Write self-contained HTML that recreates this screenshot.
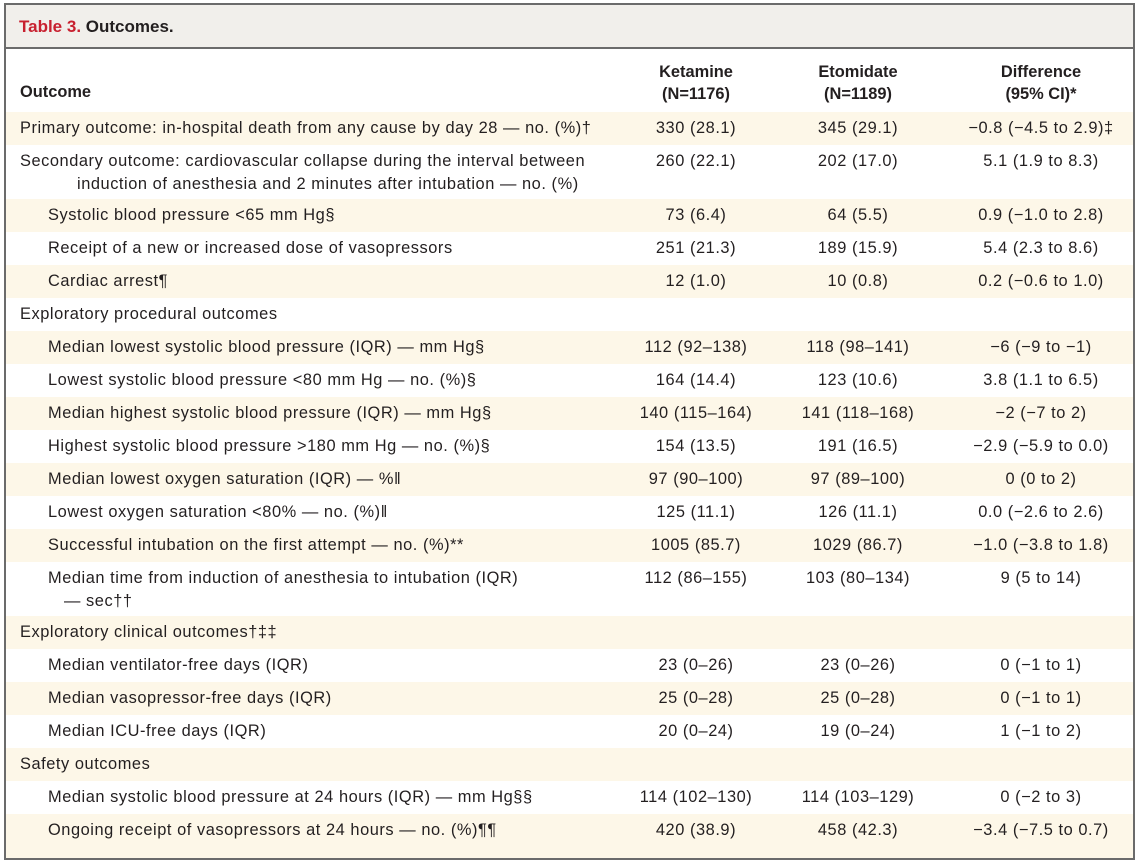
<!DOCTYPE html>
<html><head><meta charset="utf-8"><style>
*{margin:0;padding:0;box-sizing:border-box}
body{width:1140px;height:863px;background:#fff;font-family:"Liberation Sans","DejaVu Sans",sans-serif;color:#231f20;position:relative;overflow:hidden}
.box{position:absolute;left:4px;top:3px;width:1131px;height:857px;border:2px solid #6b6b6b}
.hd{position:absolute;left:0;top:0;right:0;height:44px;background:#f1efeb;border-bottom:2px solid #6b6b6b;font-size:17px;font-weight:bold;padding:12px 0 0 13px}
.hd span{color:#c8202f}
.r{position:absolute;left:0;right:0;font-size:16.4px;letter-spacing:0.55px}
.s{background:#fdf7e8}
.r div{position:absolute;top:0;line-height:33px;white-space:nowrap}
.l{left:14px}
.i{left:42px}
.c1{left:610px;width:160px;text-align:center}
.c2{left:772px;width:160px;text-align:center}
.c3{left:950px;width:170px;text-align:center}
.ch{position:absolute;font-weight:bold;font-size:16.4px;text-align:center;line-height:22px}
</style></head><body>
<div class="box">
<div class="hd"><span>Table 3.</span> Outcomes.</div>
<div class="ch" style="left:14px;top:76px;text-align:left">Outcome</div>
<div class="ch" style="left:610px;width:160px;top:56px">Ketamine<br>(N=1176)</div>
<div class="ch" style="left:772px;width:160px;top:56px">Etomidate<br>(N=1189)</div>
<div class="ch" style="left:950px;width:170px;top:56px">Difference<br>(95% CI)*</div>

<div class="r s" style="top:107px;height:33px"><div class="l">Primary outcome: in-hospital death from any cause by day 28 — no. (%)†</div><div class="c1">330 (28.1)</div><div class="c2">345 (29.1)</div><div class="c3">−0.8 (−4.5 to 2.9)‡</div></div>
<div class="r" style="top:140px;height:54px"><div class="l" style="line-height:23px;top:5px">Secondary outcome: cardiovascular collapse during the interval between<br><span style="padding-left:57px">induction of anesthesia and 2 minutes after intubation — no. (%)</span></div><div class="c1" style="top:0">260 (22.1)</div><div class="c2">202 (17.0)</div><div class="c3">5.1 (1.9 to 8.3)</div></div>
<div class="r s" style="top:194px;height:33px"><div class="i">Systolic blood pressure &lt;65 mm Hg§</div><div class="c1">73 (6.4)</div><div class="c2">64 (5.5)</div><div class="c3">0.9 (−1.0 to 2.8)</div></div>
<div class="r" style="top:227px;height:33px"><div class="i">Receipt of a new or increased dose of vasopressors</div><div class="c1">251 (21.3)</div><div class="c2">189 (15.9)</div><div class="c3">5.4 (2.3 to 8.6)</div></div>
<div class="r s" style="top:260px;height:33px"><div class="i">Cardiac arrest¶</div><div class="c1">12 (1.0)</div><div class="c2">10 (0.8)</div><div class="c3">0.2 (−0.6 to 1.0)</div></div>
<div class="r" style="top:293px;height:33px"><div class="l">Exploratory procedural outcomes</div></div>
<div class="r s" style="top:326px;height:33px"><div class="i">Median lowest systolic blood pressure (IQR) — mm Hg§</div><div class="c1">112 (92–138)</div><div class="c2">118 (98–141)</div><div class="c3">−6 (−9 to −1)</div></div>
<div class="r" style="top:359px;height:33px"><div class="i">Lowest systolic blood pressure &lt;80 mm Hg — no. (%)§</div><div class="c1">164 (14.4)</div><div class="c2">123 (10.6)</div><div class="c3">3.8 (1.1 to 6.5)</div></div>
<div class="r s" style="top:392px;height:33px"><div class="i">Median highest systolic blood pressure (IQR) — mm Hg§</div><div class="c1">140 (115–164)</div><div class="c2">141 (118–168)</div><div class="c3">−2 (−7 to 2)</div></div>
<div class="r" style="top:425px;height:33px"><div class="i">Highest systolic blood pressure &gt;180 mm Hg — no. (%)§</div><div class="c1">154 (13.5)</div><div class="c2">191 (16.5)</div><div class="c3">−2.9 (−5.9 to 0.0)</div></div>
<div class="r s" style="top:458px;height:33px"><div class="i">Median lowest oxygen saturation (IQR) — %‖</div><div class="c1">97 (90–100)</div><div class="c2">97 (89–100)</div><div class="c3">0 (0 to 2)</div></div>
<div class="r" style="top:491px;height:33px"><div class="i">Lowest oxygen saturation &lt;80% — no. (%)‖</div><div class="c1">125 (11.1)</div><div class="c2">126 (11.1)</div><div class="c3">0.0 (−2.6 to 2.6)</div></div>
<div class="r s" style="top:524px;height:33px"><div class="i">Successful intubation on the first attempt — no. (%)**</div><div class="c1">1005 (85.7)</div><div class="c2">1029 (86.7)</div><div class="c3">−1.0 (−3.8 to 1.8)</div></div>
<div class="r" style="top:557px;height:54px"><div class="i" style="line-height:23px;top:5px">Median time from induction of anesthesia to intubation (IQR)<br><span style="padding-left:16px">— sec††</span></div><div class="c1">112 (86–155)</div><div class="c2">103 (80–134)</div><div class="c3">9 (5 to 14)</div></div>
<div class="r s" style="top:611px;height:33px"><div class="l">Exploratory clinical outcomes†‡‡</div></div>
<div class="r" style="top:644px;height:33px"><div class="i">Median ventilator-free days (IQR)</div><div class="c1">23 (0–26)</div><div class="c2">23 (0–26)</div><div class="c3">0 (−1 to 1)</div></div>
<div class="r s" style="top:677px;height:33px"><div class="i">Median vasopressor-free days (IQR)</div><div class="c1">25 (0–28)</div><div class="c2">25 (0–28)</div><div class="c3">0 (−1 to 1)</div></div>
<div class="r" style="top:710px;height:33px"><div class="i">Median ICU-free days (IQR)</div><div class="c1">20 (0–24)</div><div class="c2">19 (0–24)</div><div class="c3">1 (−1 to 2)</div></div>
<div class="r s" style="top:743px;height:33px"><div class="l">Safety outcomes</div></div>
<div class="r" style="top:776px;height:33px"><div class="i">Median systolic blood pressure at 24 hours (IQR) — mm Hg§§</div><div class="c1">114 (102–130)</div><div class="c2">114 (103–129)</div><div class="c3">0 (−2 to 3)</div></div>
<div class="r s" style="top:809px;height:44px"><div class="i">Ongoing receipt of vasopressors at 24 hours — no. (%)¶¶</div><div class="c1">420 (38.9)</div><div class="c2">458 (42.3)</div><div class="c3">−3.4 (−7.5 to 0.7)</div></div>
</div>
</body></html>
